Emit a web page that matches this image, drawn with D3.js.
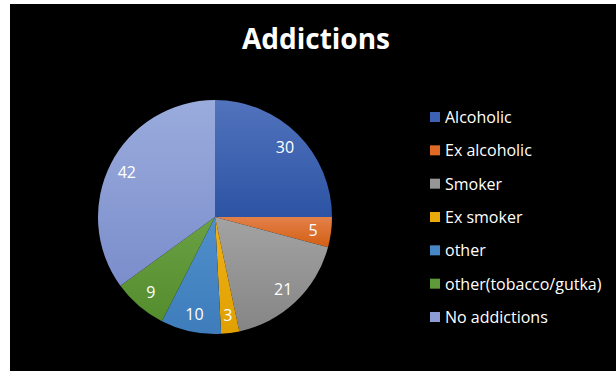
<!DOCTYPE html>
<html>
<head>
<meta charset="utf-8">
<script src="https://cdn.jsdelivr.net/npm/d3@7"></script>
<style>
  html, body { margin: 0; padding: 0; background: #fff; }
  svg { display: block; }
  text { font-family: "Open Sans", "Lato", sans-serif; fill: #fff; }
</style>
</head>
<body>
<svg id="chart" width="616" height="371"></svg>
<script>
// Addiction categories and counts
const categories = ["Alcoholic", "Ex alcoholic", "Smoker", "Ex smoker", "other", "other(tobacco/gutka)", "No addictions"];
const values = [30, 5, 21, 3, 10, 9, 42];
// Slice fill: light (top) and dark (bottom) stops, plus flat legend colour
const topColors = ["#5273bd", "#e3804a", "#a3a3a3", "#f0b21a", "#4f8fcb", "#6aa043", "#9aacdc"];
const bottomColors = ["#2c54a4", "#d35f12", "#858585", "#e0a000", "#3e7cbb", "#548d2e", "#7b8dcb"];
const legendColors = ["#3d62b3", "#e06a24", "#969696", "#eaaa0a", "#4887c5", "#5f9a3a", "#8c9dd6"];

const svg = d3.select("#chart");
const W = 616, H = 371;

// chart area
svg.append("rect").attr("x", 10).attr("y", 4).attr("width", W - 10).attr("height", H - 4).attr("fill", "#000");

svg.append("text")
  .attr("x", 316).attr("y", 49)
  .attr("text-anchor", "middle")
  .style("font-size", "28px").style("font-weight", "bold")
  .text("Addictions");

const defs = svg.append("defs");
topColors.forEach((c, i) => {
  const g = defs.append("linearGradient").attr("id", "grad" + i)
    .attr("x1", 0).attr("y1", 0).attr("x2", 0).attr("y2", 1);
  g.append("stop").attr("offset", "0%").attr("stop-color", c);
  g.append("stop").attr("offset", "100%").attr("stop-color", bottomColors[i]);
});

const cx = 215, cy = 217, R = 117;
const pie = d3.pie().sort(null).value(d => d)(values);
const arc = d3.arc().innerRadius(0).outerRadius(R);
const labelArc = d3.arc().innerRadius(99).outerRadius(99);

const g = svg.append("g").attr("transform", `translate(${cx},${cy})`);
g.selectAll("path.slice").data(pie).join("path")
  .attr("class", "slice")
  .attr("d", arc)
  .attr("fill", (d, i) => `url(#grad${i})`);

g.selectAll("text.lbl").data(pie).join("text")
  .attr("class", "lbl")
  .attr("transform", d => `translate(${labelArc.centroid(d)})`)
  .attr("text-anchor", "middle")
  .attr("dominant-baseline", "central")
  .style("font-size", "16px")
  .text(d => d.data);

// legend
const legend = svg.append("g");
const ly = d3.scalePoint().domain(categories).range([117, 317]);
const item = legend.selectAll("g").data(categories).join("g")
  .attr("transform", d => `translate(430,${ly(d)})`);
item.append("rect").attr("x", 0).attr("y", -5).attr("width", 10).attr("height", 10)
  .attr("fill", (d, i) => legendColors[i]);
item.append("text").attr("x", 15).attr("y", 0)
  .attr("dominant-baseline", "central")
  .style("font-size", "16px")
  .text(d => d);
</script>
</body>
</html>
